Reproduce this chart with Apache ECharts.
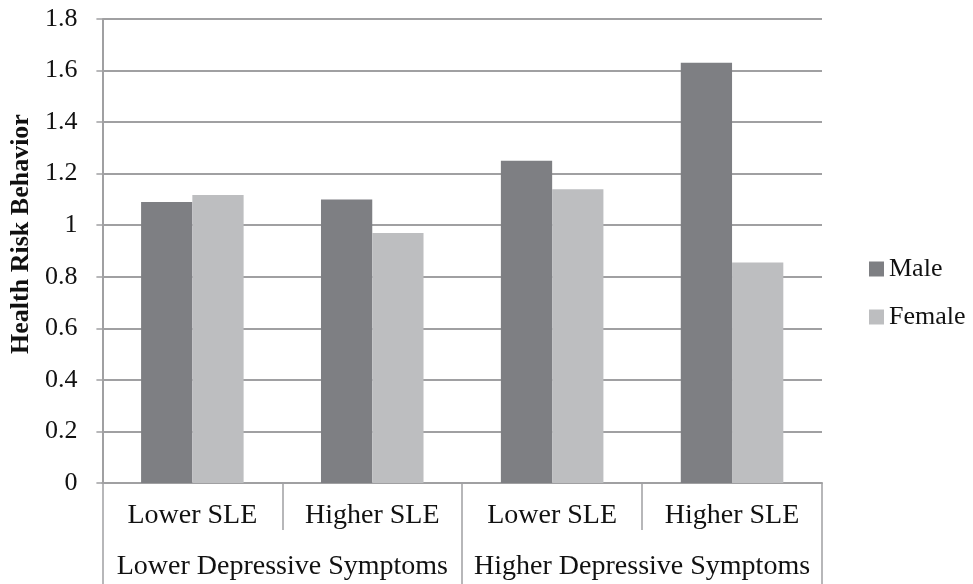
<!DOCTYPE html>
<html>
<head>
<meta charset="utf-8">
<script src="https://cdn.jsdelivr.net/npm/echarts@6/dist/echarts.min.js"></script>
<style>
  html, body { margin: 0; padding: 0; background: #fff; }
  #chart { width: 973px; height: 584px; }
</style>
</head>
<body>
<div id="chart"></div>
<script>
// 数据
var sleLabels = ['Lower SLE', 'Higher SLE', 'Lower SLE', 'Higher SLE'];
var groupLabels = ['Lower Depressive Symptoms', 'Higher Depressive Symptoms'];
var maleValues = [1.09, 1.10, 1.25, 1.63];
var femaleValues = [1.117, 0.97, 1.14, 0.855];
var yTicks = [0, 1.8, 0.2]; // min, max, interval

var serif = '"Liberation Serif", "Times New Roman", serif';
var gridGray = '#a0a0a2';

var chart = echarts.init(document.getElementById('chart'));
var option = {
  backgroundColor: '#fff',
  animation: false,
  textStyle: { fontFamily: serif, color: '#111' },
  grid: { left: 100, right: 151, top: 19, bottom: 101 },
  legend: {
    orient: 'vertical',
    left: 864,
    top: 251,
    itemWidth: 15,
    itemHeight: 15,
    itemGap: 22,
    itemTextGap: 6,
    icon: 'rect',
    textStyle: { fontFamily: serif, fontSize: 26, color: '#111' },
    data: ['Male', 'Female']
  },
  xAxis: [
    {
      type: 'category',
      data: sleLabels,
      position: 'bottom',
      axisLine: { show: true, lineStyle: { color: gridGray, width: 2 } },
      axisTick: { show: true, interval: 0, length: 47, lineStyle: { color: gridGray, width: 1.5 } },
      axisLabel: { interval: 0, margin: 19, fontFamily: serif, fontSize: 28, color: '#111' }
    },
    {
      type: 'category',
      data: groupLabels,
      position: 'bottom',
      offset: 47,
      axisLine: { show: false },
      axisTick: { show: true, interval: 0, length: 54, lineStyle: { color: gridGray, width: 1.5 } },
      axisLabel: { interval: 0, margin: 23, fontFamily: serif, fontSize: 28, color: '#111' }
    }
  ],
  yAxis: {
    type: 'value',
    min: yTicks[0],
    max: yTicks[1],
    interval: yTicks[2],
    name: 'Health Risk Behavior',
    nameLocation: 'middle',
    nameGap: 68,
    nameRotate: 90,
    nameTextStyle: { fontFamily: serif, fontSize: 26, fontWeight: 'bold', color: '#111', padding: [0, 0, 0, 34] },
    axisLine: { show: true, lineStyle: { color: gridGray, width: 2 } },
    axisTick: { show: true, length: 6, lineStyle: { color: gridGray, width: 1.5 } },
    axisLabel: {
      margin: 25,
      fontFamily: serif,
      fontSize: 26,
      color: '#111',
      formatter: function (v) { return String(Math.round(v * 10) / 10); }
    },
    splitLine: { show: true, lineStyle: { color: gridGray, width: 2 } }
  },
  series: [
    {
      name: 'Male',
      type: 'bar',
      xAxisIndex: 0,
      data: maleValues,
      barGap: 0,
      barCategoryGap: '43%',
      itemStyle: { color: '#7e7f83' }
    },
    {
      name: 'Female',
      type: 'bar',
      xAxisIndex: 0,
      data: femaleValues,
      barGap: 0,
      barCategoryGap: '43%',
      itemStyle: { color: '#bdbec0' }
    }
  ]
};
chart.setOption(option);
</script>
</body>
</html>
